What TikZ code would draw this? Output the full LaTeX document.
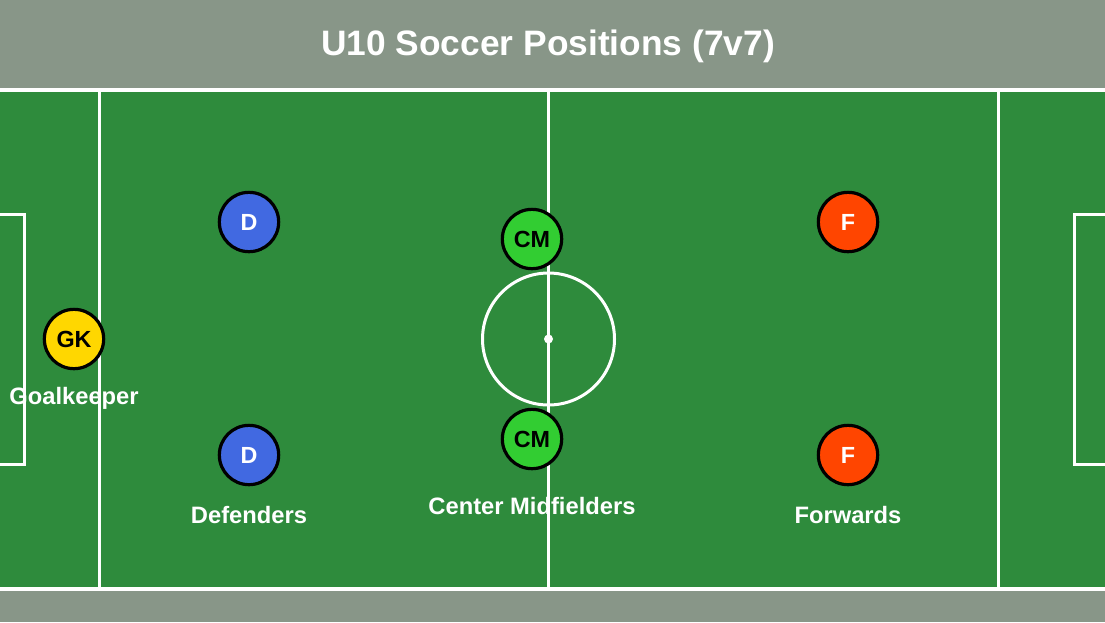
\documentclass[tikz,border=0pt]{standalone}
\usepackage{fontspec}
\setmainfont{Liberation Sans}
\usepackage{tikz}
\definecolor{pitchgray}{RGB}{136,150,136}
\definecolor{pitchgreen}{RGB}{46,139,60}
\definecolor{defblue}{RGB}{65,105,225}
\definecolor{midgreen}{RGB}{50,205,50}
\definecolor{fwdred}{RGB}{255,69,0}
\definecolor{gkgold}{RGB}{255,215,0}
\tikzset{
	player/.style={circle, draw=black, line width=2.4pt, minimum size=44.5pt, inner sep=0pt, font=\fontsize{17.5}{19}\selectfont\bfseries},
	poslabel/.style={text=white, font=\fontsize{17.8}{20}\selectfont\bfseries},
	pitchline/.style={draw=white, line width=2.25pt}
}

\begin{document}
\begin{tikzpicture}[x=0.75pt, y=-0.75pt]
			%%%%% START %%%%%
			
			\useasboundingbox (0, 0) rectangle (1105, 622);
			\fill[pitchgray] (0, 0) rectangle (1105, 622);
			
			\node[text=white, font=\fontsize{26.5}{30}\selectfont\bfseries] (title) at (548, 46.5) {U10 Soccer Positions (7v7)};
			
			\draw[pitchline, line width=3pt, fill=pitchgreen] (-10, 89.5) rectangle (1115, 589);
			
			\draw[pitchline] (99, 89.5) -- (99, 589);
			\draw[pitchline] (548.5, 89.5) -- (548.5, 589);
			\draw[pitchline] (998, 89.5) -- (998, 589);
			
			\draw[pitchline] (-10, 214) rectangle (24, 464);
			\draw[pitchline] (1074, 214) rectangle (1115, 464);
			
			\draw[pitchline] (548.5, 339) circle (66);
			\fill[white] (548.5, 339) circle (4.5);
			
			\node[player, fill=gkgold, text=black] (gk) at (74, 339) {GK};
			\node[player, fill=defblue, text=white] (dtop) at (249, 222) {D};
			\node[player, fill=defblue, text=white] (dbot) at (249, 455) {D};
			\node[player, fill=midgreen, text=black] (cmtop) at (532, 239) {CM};
			\node[player, fill=midgreen, text=black] (cmbot) at (532, 439) {CM};
			\node[player, fill=fwdred, text=white] (ftop) at (848, 222) {F};
			\node[player, fill=fwdred, text=white] (fbot) at (848, 455) {F};
			
			\node[poslabel] (gklabel) at (74, 398) {Goalkeeper};
			\node[poslabel] (dlabel) at (249, 515) {Defenders};
			\node[poslabel] (cmlabel) at (532, 506) {Center Midfielders};
			\node[poslabel] (flabel) at (848, 515) {Forwards};
			
			%%%%% END %%%%%
		\end{tikzpicture}
\end{document}
